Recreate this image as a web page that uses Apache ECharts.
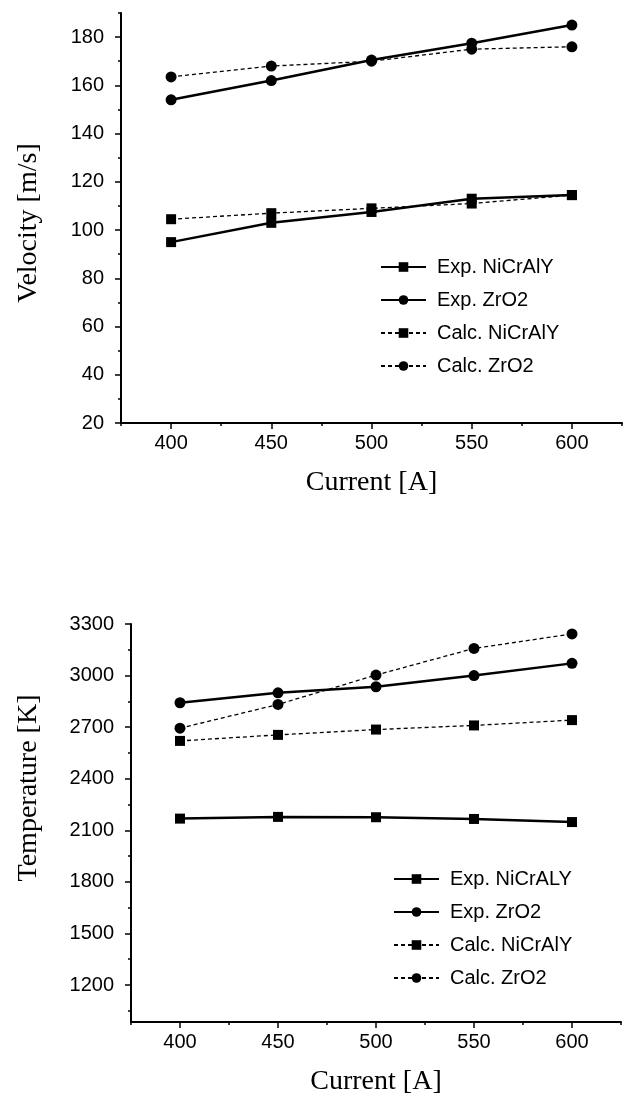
<!DOCTYPE html>
<html>
<head>
<meta charset="utf-8">
<script src="https://cdn.jsdelivr.net/npm/echarts@6/dist/echarts.min.js"></script>
<style>
  html, body { margin: 0; padding: 0; background: #fff; }
  #chart { width: 624px; height: 1098px; }
</style>
</head>
<body>
<div id="chart"></div>
<script>
// currents [A]
var currents = [400, 450, 500, 550, 600];

// velocity chart [m/s]
var velExpNiCrAlY = [95, 103, 107.5, 113, 114.5];
var velExpZrO2 = [154, 162, 170.5, 177.5, 185];
var velCalcNiCrAlY = [104.5, 107, 109, 111, 114.5];
var velCalcZrO2 = [163.5, 168, 170, 175, 176];

// temperature chart [K]
var tmpExpNiCrAlY = [2168, 2178, 2176, 2166, 2148];
var tmpExpZrO2 = [2842, 2900, 2935, 3000, 3071];
var tmpCalcNiCrAlY = [2620, 2655, 2686, 2710, 2741];
var tmpCalcZrO2 = [2694, 2832, 3003, 3158, 3242];

// tick labels
var xMajor = [400, 450, 500, 550, 600];
var xMinor = [375, 425, 475, 525, 575, 625];
var velMajor = [20, 40, 60, 80, 100, 120, 140, 160, 180];
var velMinor = [30, 50, 70, 90, 110, 130, 150, 170, 190];
var tmpMajor = [1200, 1500, 1800, 2100, 2400, 2700, 3000, 3300];
var tmpMinor = [1050, 1350, 1650, 1950, 2250, 2550, 2850, 3150];

var legendTop = ["Exp. NiCrAlY", "Exp. ZrO2", "Calc. NiCrAlY", "Calc. ZrO2"];
var legendBottom = ["Exp. NiCrALY", "Exp. ZrO2", "Calc. NiCrAlY", "Calc. ZrO2"];

var sans = "Liberation Sans";
var serif = "Liberation Serif";

function pairs(vals) {
  return currents.map(function (c, i) {
    return [c, vals[i]];
  });
}

function plain(v) {
  return String(v);
}

function xAxes(gridIndex) {
  return [
    {
      type: "value", gridIndex: gridIndex, position: "bottom", min: 375, max: 625,
      name: "Current [A]", nameLocation: "middle", nameGap: 46,
      nameTextStyle: { fontFamily: serif, fontSize: 28, color: "#000" },
      axisLine: { lineStyle: { color: "#000", width: 2 } },
      axisTick: { customValues: xMajor, length: 6, lineStyle: { color: "#000", width: 1.5 } },
      axisLabel: { customValues: xMajor, formatter: plain, fontFamily: sans, fontSize: 20, color: "#000", margin: 10 },
      splitLine: { show: false }
    },
    {
      type: "value", gridIndex: gridIndex, position: "bottom", min: 375, max: 625,
      axisLine: { show: false },
      axisTick: { customValues: xMinor, length: 3, lineStyle: { color: "#000", width: 1.5 } },
      axisLabel: { show: false },
      splitLine: { show: false }
    }
  ];
}

function yAxes(gridIndex, min, max, major, minor, name, gap, pad) {
  return [
    {
      type: "value", gridIndex: gridIndex, position: "left", min: min, max: max,
      name: name, nameLocation: "middle", nameGap: gap, nameRotate: 90,
      nameTextStyle: { fontFamily: serif, fontSize: 28, color: "#000", padding: pad },
      axisLine: { show: true, lineStyle: { color: "#000", width: 2 } },
      axisTick: { customValues: major, length: 6, lineStyle: { color: "#000", width: 1.5 } },
      axisLabel: { customValues: major, formatter: plain, fontFamily: sans, fontSize: 20, color: "#000", margin: 17 },
      splitLine: { show: false }
    },
    {
      type: "value", gridIndex: gridIndex, position: "left", min: min, max: max,
      axisLine: { show: false },
      axisTick: { customValues: minor, length: 3, lineStyle: { color: "#000", width: 1.5 } },
      axisLabel: { show: false },
      splitLine: { show: false }
    }
  ];
}

function line(name, vals, gi, dashed, symbol) {
  return {
    name: name, type: "line", data: pairs(vals),
    xAxisIndex: gi * 2, yAxisIndex: gi * 2,
    symbol: symbol, symbolSize: symbol === "circle" ? 11 : 10,
    itemStyle: { color: "#000" },
    lineStyle: dashed
      ? { color: "#000", width: 1.3, type: [4, 3] }
      : { color: "#000", width: 2.5 },
    animation: false
  };
}

var myChart = echarts.init(document.getElementById("chart"), null, { renderer: "canvas" });
var legendStyle = {
  orient: "vertical", itemWidth: 45, itemHeight: 12, itemGap: 13,
  textStyle: { fontFamily: sans, fontSize: 20, color: "#000", padding: [0, 0, 0, 6] },
  selectedMode: false
};

var option = {
  backgroundColor: "#fff",
  animation: false,
  grid: [
    { left: 121, top: 13, width: 501, height: 410 },
    { left: 131, top: 624, width: 490, height: 398 }
  ],
  xAxis: xAxes(0).concat(xAxes(1)),
  yAxis: yAxes(0, 20, 190, velMajor, velMinor, "Velocity [m/s]", 78, [0, 10, 0, 0])
    .concat(yAxes(1, 985, 3300, tmpMajor, tmpMinor, "Temperature [K]", 88, [0, 0, 0, 70])),
  legend: [
    Object.assign({ data: legendTop, left: 375, top: 252 }, legendStyle),
    Object.assign({ data: legendBottom, left: 388, top: 864 }, legendStyle)
  ],
  series: [
    line("Exp. NiCrAlY", velExpNiCrAlY, 0, false, "rect"),
    line("Exp. ZrO2", velExpZrO2, 0, false, "circle"),
    line("Calc. NiCrAlY", velCalcNiCrAlY, 0, true, "rect"),
    line("Calc. ZrO2", velCalcZrO2, 0, true, "circle"),
    line("Exp. NiCrALY", tmpExpNiCrAlY, 1, false, "rect"),
    line("Exp. ZrO2", tmpExpZrO2, 1, false, "circle"),
    line("Calc. NiCrAlY", tmpCalcNiCrAlY, 1, true, "rect"),
    line("Calc. ZrO2", tmpCalcZrO2, 1, true, "circle")
  ]
};

myChart.setOption(option);
</script>
</body>
</html>
